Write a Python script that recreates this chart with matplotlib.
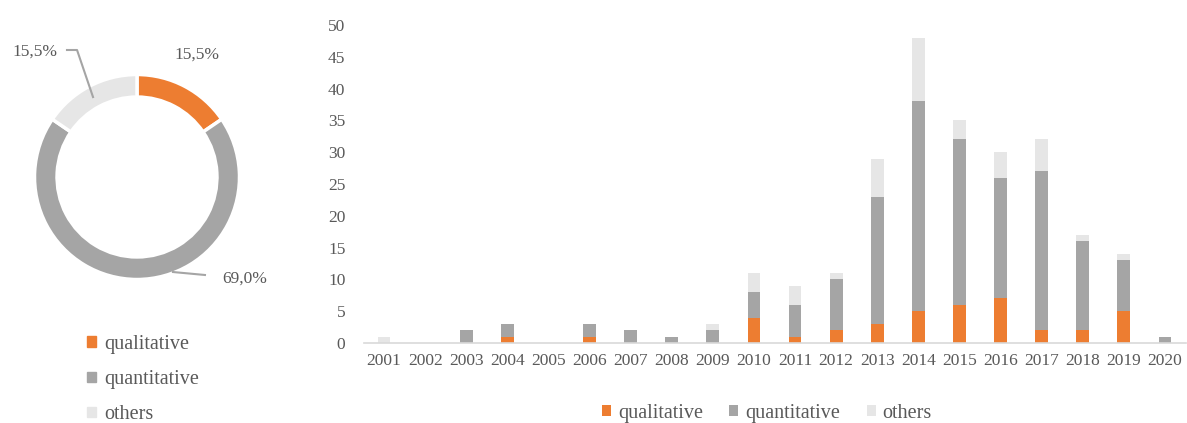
import matplotlib
matplotlib.use("Agg")
import matplotlib.pyplot as plt
from matplotlib.patches import Patch
import numpy as np

plt.rcParams['font.family'] = ['Liberation Serif', 'DejaVu Serif']
plt.rcParams['font.size'] = 12
TEXT = '#595959'

years = [str(y) for y in range(2001, 2021)]
qualitative = [0, 0, 0, 1, 0, 1, 0, 0, 0, 4, 1, 2, 3, 5, 6, 7, 2, 2, 5, 0]
quantitative = [0, 0, 2, 2, 0, 2, 2, 1, 2, 4, 5, 8, 20, 33, 26, 19, 25, 14, 8, 1]
others = [1, 0, 0, 0, 0, 0, 0, 0, 1, 3, 3, 1, 6, 10, 3, 4, 5, 1, 1, 0]

series_names = ['qualitative', 'quantitative', 'others']
colors = ['#ED7D31', '#A5A5A5', '#E6E6E6']

share_labels = ['15,5%', '69,0%', '15,5%']

W, H = 1187, 423
fig = plt.figure(figsize=(W / 100, H / 100), dpi=100)

# ---- stacked bar chart ----
ax = fig.add_axes([363.5 / W, 1 - 343 / H, 822 / W, 318 / H])
x = np.arange(len(years))
q = np.array(qualitative)
n = np.array(quantitative)
o = np.array(others)
bw = 0.31
ax.bar(x, q, bw, color=colors[0], label=series_names[0])
ax.bar(x, n, bw, bottom=q, color=colors[1], label=series_names[1])
ax.bar(x, o, bw, bottom=q + n, color=colors[2], label=series_names[2])
ax.set_xlim(-0.5, len(years) - 0.5)
ax.set_ylim(0, 50)
ax.set_yticks(range(0, 51, 5))
ax.set_xticks(x)
ax.set_xticklabels(years)
for s in ['top', 'right', 'left']:
    ax.spines[s].set_visible(False)
ax.spines['bottom'].set_color('#D9D9D9')
ax.spines['bottom'].set_linewidth(1.2)
ax.tick_params(axis='both', length=0, colors=TEXT, labelsize=12.5)
ax.tick_params(axis='y', pad=13)
ax.tick_params(axis='x', pad=7)

fig.legend(*ax.get_legend_handles_labels(), loc='center',
           bbox_to_anchor=(767 / W, 1 - 413 / H), ncol=3, frameon=False,
           handlelength=0.45, handleheight=0.45, handletextpad=0.35,
           columnspacing=1.3, labelcolor=TEXT, fontsize=14.5)

# ---- donut chart ----
totals = [q.sum(), n.sum(), o.sum()]
pax = fig.add_axes([34.5 / W, 1 - 279.5 / H, 205 / W, 205 / H])
wedges, _ = pax.pie(totals, colors=colors, startangle=90, counterclock=False,
                    radius=1, wedgeprops=dict(width=0.22, edgecolor='white',
                                              linewidth=2.5))
pax.set_xlim(-1, 1)
pax.set_ylim(-1, 1)
pax.set_aspect('equal')
pax.axis('off')

lc = '#A5A5A5'
pax.text(0.585, 1.19, share_labels[0], ha='center', va='center',
         color=TEXT, fontsize=12.5, clip_on=False)
pax.text(-0.995, 1.22, share_labels[2], ha='center', va='center',
         color=TEXT, fontsize=12.5, clip_on=False)
pax.plot([-0.683, -0.585, -0.429], [1.239, 1.239, 0.78], color=lc, lw=1.5,
         clip_on=False)
pax.text(0.83, -0.995, share_labels[1], ha='left', va='center',
         color=TEXT, fontsize=12.5, clip_on=False)
pax.plot([0.351, 0.663], [-0.927, -0.956], color=lc, lw=1.5, clip_on=False)

fig.legend([Patch(color=c) for c in colors], series_names, loc='upper left',
           bbox_to_anchor=(87 / W, 1 - 335 / H), frameon=False, ncol=1,
           borderpad=0, borderaxespad=0, labelspacing=0.8,
           handlelength=0.45, handleheight=0.45, handletextpad=0.4,
           labelcolor=TEXT, fontsize=14.5)

fig.savefig('out.png', dpi=100)
